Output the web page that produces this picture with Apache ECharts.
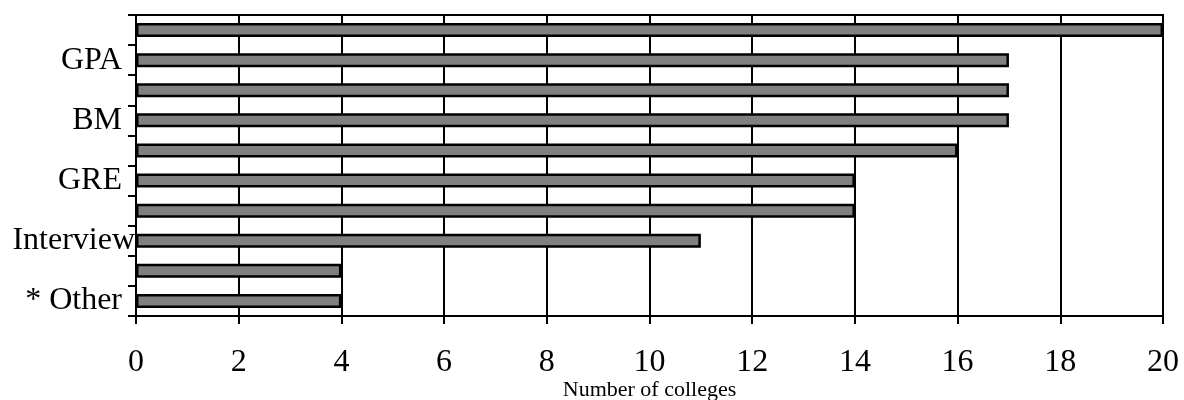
<!DOCTYPE html>
<html>
<head>
<meta charset="utf-8">
<script src="https://cdn.jsdelivr.net/npm/echarts@6/dist/echarts.min.js"></script>
<style>html,body{margin:0;padding:0;background:#fff;}#c{width:1184px;height:400px;}</style>
</head>
<body>
<div id="c"></div>
<script>
var categories = ['', 'GPA', '', 'BM', '', 'GRE', '', 'Interview', '', '* Other'];
var values = [20, 17, 17, 17, 16, 14, 14, 11, 4, 4];
var xTicks = {min: 0, max: 20, interval: 2};
var xName = 'Number of colleges';

var chart = echarts.init(document.getElementById('c'), null, {renderer: 'canvas'});
var serif = '"Liberation Serif", "Times New Roman", serif';
chart.setOption({
  animation: false,
  backgroundColor: '#fff',
  grid: {left: 136, right: 21, top: 15, bottom: 84, show: true, borderColor: '#000', borderWidth: 2, containLabel: false, outerBoundsMode: 'none'},
  xAxis: {
    type: 'value', min: xTicks.min, max: xTicks.max, interval: xTicks.interval,
    name: xName, nameLocation: 'middle', nameGap: 74, nameMoveOverlap: false,
    nameTextStyle: {fontFamily: serif, fontSize: 22, color: '#000', verticalAlign: 'middle'},
    axisLine: {show: true, lineStyle: {color: '#000', width: 2}},
    axisTick: {show: true, length: 8, lineStyle: {color: '#000', width: 2}},
    axisLabel: {fontFamily: serif, fontSize: 32, color: '#000', margin: 31},
    splitLine: {show: true, lineStyle: {color: '#000', width: 2}}
  },
  yAxis: {
    type: 'category', data: categories, inverse: true,
    axisLine: {show: true, lineStyle: {color: '#000', width: 2}},
    axisTick: {show: true, length: 8, alignWithLabel: false, interval: 0, lineStyle: {color: '#000', width: 2}},
    axisLabel: {
      interval: 0, margin: 1, fontFamily: serif, fontSize: 32, color: '#000',
      formatter: function (v) {
        if (!v) return '';
        if (v === 'Interview') return v;
        return '{p|' + v + '}';
      },
      rich: {p: {fontFamily: serif, fontSize: 32, color: '#000', padding: [0, 13, 0, 0]}}
    },
    splitLine: {show: false}
  },
  series: [{
    type: 'bar', data: values, barWidth: 14,
    itemStyle: {color: '#808080', borderColor: '#000', borderWidth: 2.5}
  }]
});
</script>
</body>
</html>
